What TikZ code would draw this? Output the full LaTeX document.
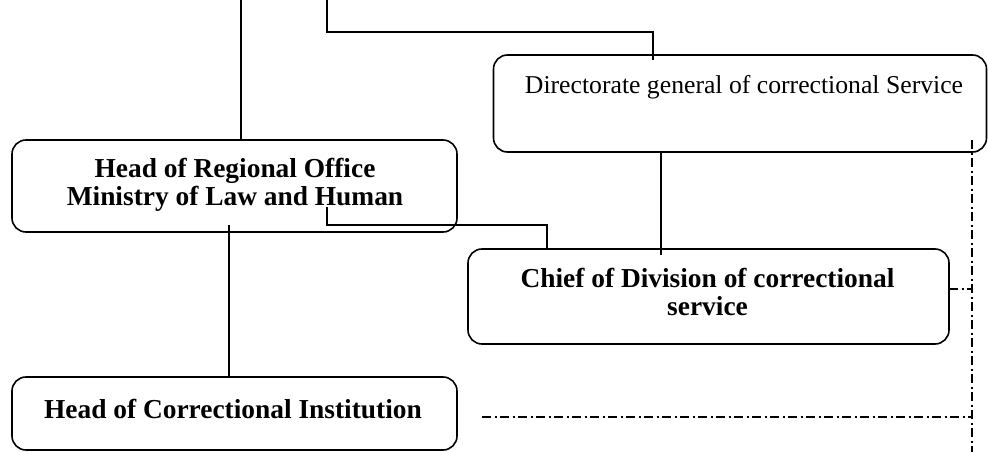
\documentclass[tikz,border=0pt]{standalone}
\usepackage{fontspec}
\setmainfont{Liberation Serif}
\begin{document}
\begin{tikzpicture}[x=1pt,y=-1pt,line width=1.6pt,
  box/.style={draw, rounded corners=14pt, inner sep=0pt},
  lbl/.style={font=\fontsize{27.4}{28}\selectfont\bfseries, inner sep=0pt, anchor=base},
  plain/.style={font=\fontsize{25.7}{28}\selectfont, inner sep=0pt, anchor=base},
  dd/.style={line width=1.4pt, dash pattern=on 9pt off 3.5pt on 2pt off 3.5pt}]
\useasboundingbox (0,0) rectangle (988,452);
% boxes
\node[box, minimum width=493pt, minimum height=97pt] (dir) at (740,103.5) {};
\node[box, minimum width=445pt, minimum height=92pt] (reg) at (234.5,186) {};
\node[box, minimum width=481pt, minimum height=95pt] (chief) at (708.5,296.5) {};
\node[box, minimum width=445pt, minimum height=73pt] (inst) at (234.5,413.5) {};
% texts
\node[plain] (dirt) at (744,93) {Directorate general of correctional Service};
\node[lbl] (rega) at (235,177) {Head of Regional Office};
\node[lbl] (regb) at (235,205) {Ministry of Law and Human};
\node[lbl] (chiefa) at (707.5,287) {Chief of Division of correctional};
\node[lbl] (chiefb) at (707.5,315) {service};
\node[lbl] (instt) at (233,418) {Head of Correctional Institution};
% coordinates
\coordinate (top1) at (241,0);
\coordinate (top2) at (327,0);
\coordinate (dirin) at (653,60);
\coordinate (dc) at (661,255);
\coordinate (r1) at (327,207);
\coordinate (c1) at (547,249);
\coordinate (r2) at (229,225);
\coordinate (dv) at (972,140);
\coordinate (dvb) at (972,452);
\coordinate (ce) at (949,289);
\coordinate (ie) at (482,417);
% solid connectors
\draw (top1) -- (top1 |- reg.north);
\draw (top2) -- ++(0,32) -| (dirin);
\draw (dc |- dir.south) -- (dc);
\draw (r1) -- ++(0,18) -| (c1);
\draw (r2) -- (r2 |- inst.north);
% dash-dot connectors
\draw[dd] (dv) -- (dvb);
\draw[dd] (ce) -- (ce -| dv);
\draw[dd] (ie) -- (ie -| dv);
\end{tikzpicture}
\end{document}
